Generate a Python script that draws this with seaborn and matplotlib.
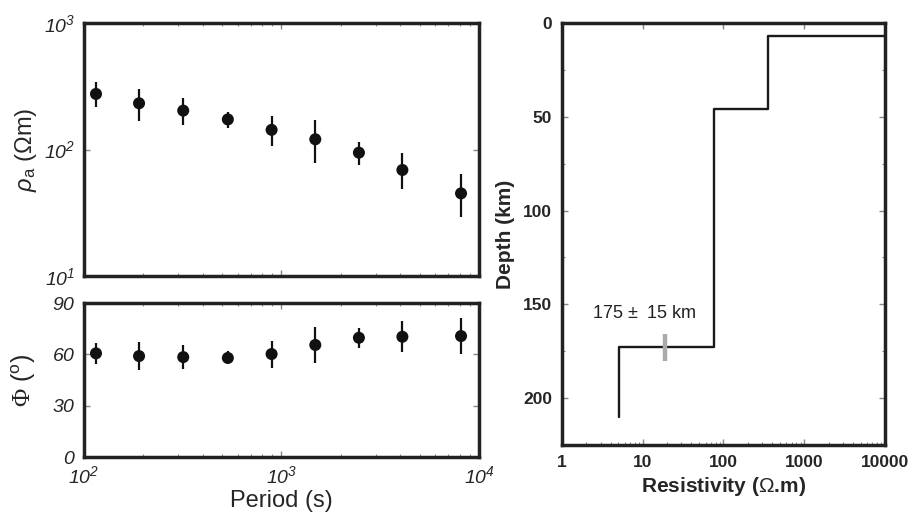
import numpy as np
import pandas as pd
import matplotlib
matplotlib.use("Agg")
import matplotlib.pyplot as plt
from matplotlib.ticker import LogLocator, FixedLocator, NullFormatter, MultipleLocator
import seaborn as sns

# apparent resistivity / phase sounding data
period = [115, 190, 318, 535, 891, 1483, 2466, 4093, 8110]
rho_a = [275, 232, 203, 173, 143, 120.5, 94.4, 68.9, 45]
rho_lo = [216, 169, 155, 149, 107, 77.8, 75.3, 48.4, 29.4]
rho_hi = [340, 300, 257, 199, 184, 171, 115, 93.3, 63.7]
phase = [60.6, 59.0, 58.4, 57.9, 60.2, 65.5, 69.7, 70.3, 70.7]
phase_lo = [54.2, 50.8, 51.2, 54.2, 52.2, 54.8, 63.5, 61.5, 60.0]
phase_hi = [66.4, 67.0, 65.5, 61.9, 67.8, 76.2, 75.6, 79.5, 81.4]

# layered resistivity model
layer_rho = [10000, 352, 76, 5.1]
layer_top = [0, 7, 46, 173]
model_bottom = 210
lab_rho = 19
lab_range = [166, 180]

sns.set_theme(style="ticks")
plt.rcParams["font.family"] = ["Liberation Sans", "DejaVu Sans"]
plt.rcParams["mathtext.fontset"] = "custom"
plt.rcParams["mathtext.rm"] = "Liberation Sans"
plt.rcParams["mathtext.it"] = "Liberation Sans:italic"
plt.rcParams["mathtext.sf"] = "Liberation Sans:italic"
plt.rcParams["mathtext.bf"] = "Liberation Serif"

spine_col = "#222222"
fig = plt.figure(figsize=(9.15, 5.16), dpi=100)
ax1 = fig.add_axes([0.0918, 0.4651, 0.4317, 0.4903])
ax2 = fig.add_axes([0.0918, 0.1143, 0.4317, 0.2984])
ax3 = fig.add_axes([0.6142, 0.1376, 0.3530, 0.8178])

df = pd.DataFrame({"T": period, "rho": rho_a, "phi": phase})

# rho_a panel
ax1.errorbar(period, rho_a,
             yerr=[np.array(rho_a) - np.array(rho_lo), np.array(rho_hi) - np.array(rho_a)],
             fmt="none", ecolor="#111111", elinewidth=1.6, capsize=0)
sns.scatterplot(data=df, x="T", y="rho", ax=ax1, color="#111111", s=75,
                edgecolor="none", zorder=3)
ax1.set_xscale("log")
ax1.set_yscale("log")
ax1.set_xlim(1e2, 1e4)
ax1.set_ylim(1e1, 1e3)
ax1.yaxis.set_major_locator(FixedLocator([10, 100, 1000]))
ax1.set_yticklabels([r"$\mathsf{10^{1}}$", r"$\mathsf{10^{2}}$", r"$\mathsf{10^{3}}$"])
ax1.yaxis.set_minor_locator(FixedLocator([]))
ax1.xaxis.set_minor_locator(LogLocator(subs=np.arange(2, 10)))
ax1.xaxis.set_minor_formatter(NullFormatter())
ax1.tick_params(axis="x", labelbottom=False)
ax1.set_xlabel("")
ax1.set_ylabel(r"$\rho_{\rm a}$ ($\Omega$m)", fontsize=17, labelpad=4)

# phase panel
ax2.errorbar(period, phase,
             yerr=[np.array(phase) - np.array(phase_lo), np.array(phase_hi) - np.array(phase)],
             fmt="none", ecolor="#111111", elinewidth=1.6, capsize=0)
sns.scatterplot(data=df, x="T", y="phi", ax=ax2, color="#111111", s=75,
                edgecolor="none", zorder=3)
ax2.set_xscale("log")
ax2.set_xlim(1e2, 1e4)
ax2.set_ylim(0, 90)
ax2.yaxis.set_major_locator(FixedLocator([0, 30, 60, 90]))
ax2.set_yticklabels([r"$\mathsf{0}$", r"$\mathsf{30}$", r"$\mathsf{60}$", r"$\mathsf{90}$"])
ax2.xaxis.set_major_locator(FixedLocator([100, 1000, 10000]))
ax2.set_xticklabels([r"$\mathsf{10^{2}}$", r"$\mathsf{10^{3}}$", r"$\mathsf{10^{4}}$"])
ax2.xaxis.set_minor_locator(LogLocator(subs=np.arange(2, 10)))
ax2.xaxis.set_minor_formatter(NullFormatter())
ax2.set_xlabel("Period (s)", fontsize=17, labelpad=2)
ax2.set_ylabel(r"$\mathbf{\Phi}$ ($^{\rm o}$)", fontsize=18, labelpad=10)

for ax in (ax1, ax2):
    ax.tick_params(which="both", direction="in", top=True, right=True,
                   color="#888888", labelsize=14, pad=6)
    ax.tick_params(which="major", length=4, width=1)
    ax.tick_params(which="minor", length=2.5, width=0.8)

# layered model panel
xs, ys = [], []
for i in range(1, len(layer_rho)):
    bottom = layer_top[i + 1] if i + 1 < len(layer_top) else model_bottom
    xs += [layer_rho[i - 1], layer_rho[i], layer_rho[i]]
    ys += [layer_top[i], layer_top[i], bottom]
model = pd.DataFrame({"rho": xs, "depth": ys})
sns.lineplot(data=model, x="rho", y="depth", ax=ax3, sort=False, estimator=None,
             color="#1a1a1a", linewidth=1.7)
ax3.plot([lab_rho, lab_rho], lab_range, color="#aaaaaa", linewidth=3.2,
         solid_capstyle="butt", zorder=3)
ax3.text(2.35, 155, "175 $\\pm$  15 km", fontsize=13, va="center", ha="left",
         color="#222222")
ax3.set_xscale("log")
ax3.set_xlim(1, 10000)
ax3.set_ylim(225, 0)
ax3.xaxis.set_major_locator(FixedLocator([1, 10, 100, 1000, 10000]))
ax3.set_xticklabels(["1", "10", "100", "1000", "10000"])
ax3.xaxis.set_minor_locator(LogLocator(subs=np.arange(2, 10)))
ax3.xaxis.set_minor_formatter(NullFormatter())
ax3.yaxis.set_major_locator(FixedLocator([0, 50, 100, 150, 200]))
ax3.yaxis.set_minor_locator(MultipleLocator(25))
ax3.tick_params(which="both", direction="in", top=True, right=True,
                color="#888888", labelsize=12.5, pad=7)
ax3.tick_params(which="major", length=4, width=1)
ax3.tick_params(which="minor", length=2.5, width=0.8)
ax3.tick_params(axis="x", which="minor", top=False)
for lab in ax3.get_xticklabels() + ax3.get_yticklabels():
    lab.set_fontweight("bold")
ax3.set_xlabel("Resistivity ($\\Omega$.m)", fontsize=15, fontweight="bold", labelpad=4)
ax3.set_ylabel("Depth (km)", fontsize=15, fontweight="bold", labelpad=6)

for ax in (ax1, ax2, ax3):
    for sp in ax.spines.values():
        sp.set_linewidth(2.5)
        sp.set_color(spine_col)
        sp.set_visible(True)

fig.savefig("out.png", dpi=100)
